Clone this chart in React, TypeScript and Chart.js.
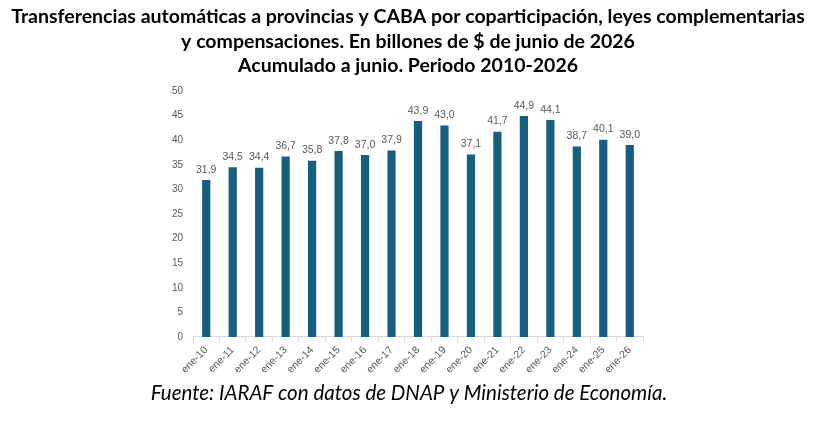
import React, { useEffect, useRef } from "react";
import { Chart, registerables } from "chart.js";

Chart.register(...registerables);

const categories = ["ene-10","ene-11","ene-12","ene-13","ene-14","ene-15","ene-16","ene-17","ene-18","ene-19","ene-20","ene-21","ene-22","ene-23","ene-24","ene-25","ene-26"];
const values = [31.9,34.5,34.4,36.7,35.8,37.8,37.0,37.9,43.9,43.0,37.1,41.7,44.9,44.1,38.7,40.1,39.0];
const titleLines = [
  "Transferencias automáticas a provincias y CABA por coparticipación, leyes complementarias",
  "y compensaciones. En billones de $ de junio de 2026",
  "Acumulado a junio. Periodo 2010-2026",
];
const footerText = "Fuente: IARAF con datos de DNAP y Ministerio de Economía.";

const BAR = "#165f80";
const TEXT = "#595959";

export default function App() {
  const ref = useRef<HTMLCanvasElement>(null);
  useEffect(() => {
    if (!ref.current) return;
    const textPlugin = {
      id: "texts",
      afterDraw(chart: any) {
        const ctx = chart.ctx;
        ctx.save();
        ctx.fillStyle = "#000";
        ctx.textAlign = "center";
        ctx.textBaseline = "middle";
        ctx.font = "bold 19.5px Lato";
        const ys = [17, 42, 66];
        titleLines.forEach((t, i) => ctx.fillText(t, 408, ys[i]));
        ctx.font = "italic 20.5px Lato";
        ctx.fillText(footerText, 409, 393);
        // data labels
        const meta = chart.getDatasetMeta(0);
        ctx.font = "10.5px 'Liberation Sans'";
        ctx.fillStyle = TEXT;
        ctx.textBaseline = "bottom";
        meta.data.forEach((el: any, i: number) => {
          ctx.fillText(values[i].toFixed(1).replace(".", ","), el.x, el.y - 5);
        });
        ctx.restore();
      },
    };
    const chart = new Chart(ref.current, {
      type: "bar",
      data: {
        labels: categories,
        datasets: [{ data: values, backgroundColor: BAR, barPercentage: 0.31, categoryPercentage: 1 }],
      },
      options: {
        animation: false,
        responsive: false,
        layout: { padding: { top: 91, left: 0, right: 172, bottom: 46 } },
        plugins: { legend: { display: false }, tooltip: { enabled: false }, title: { display: false } },
        scales: {
          x: {
            offset: true,
            grid: { offset: true, drawOnChartArea: false, color: "#d9d9d9", tickLength: 5 },
            border: { color: "#d9d9d9" },
            ticks: { color: TEXT, font: { family: "Liberation Sans", size: 10.5 }, maxRotation: 45, minRotation: 45, padding: 2 },
          },
          y: {
            min: 0, max: 50,
            grid: { display: false },
            border: { display: false },
            afterFit: (s: any) => { s.width = 193; },
            ticks: { stepSize: 5, color: TEXT, font: { family: "Liberation Sans", size: 10 }, padding: 2 },
          },
        },
      },
      plugins: [textPlugin],
    });
    return () => chart.destroy();
  }, []);
  return (
    <div style={{ position: "fixed", left: 0, top: 0, width: 815, height: 424, background: "#fff" }}>
      <canvas ref={ref} width={815} height={424} />
    </div>
  );
}
